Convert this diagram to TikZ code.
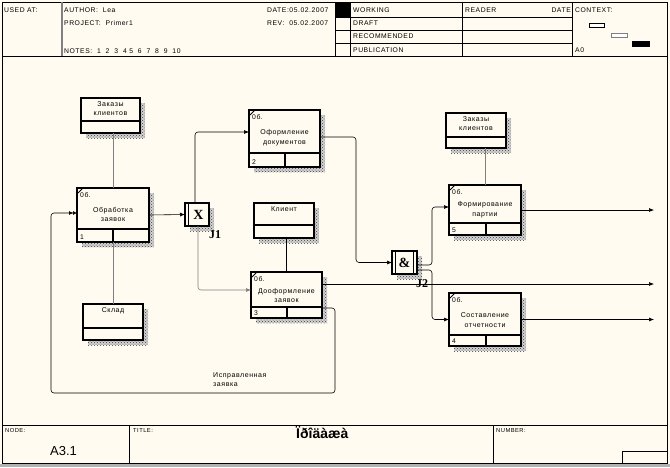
\documentclass[tikz,border=0pt]{standalone}
\usepackage{fontspec}
\setmainfont{Liberation Sans}
\newfontfamily\labf[LetterSpace=8]{Liberation Sans}
\newfontfamily\serifb{Liberation Serif}
\usetikzlibrary{arrows.meta,patterns,calc}
\definecolor{bg}{RGB}{255,251,240}
\definecolor{ln}{RGB}{128,128,128}
\tikzset{
  boxn/.style={draw=black, line width=1.3pt, fill=bg, inner sep=0pt, outer sep=0pt, anchor=north west},
  shade/.style={preaction={fill=gray!35}, pattern=crosshatch dots, pattern color=black!75},
  txt/.style={inner sep=0pt, font=\labf\fontsize{7}{9.5}\selectfont, align=center},
  hdr/.style={inner sep=0pt, anchor=base west, font=\labf\fontsize{6.8}{8}\selectfont},
  conn/.style={draw=black, line width=0.6pt, rounded corners=3pt},
  mech/.style={draw=ln, line width=0.8pt},
  arr/.style={-{Latex[length=5pt,width=4pt]}},
  jl/.style={inner sep=0pt, font=\serifb\bfseries\fontsize{12}{12}\selectfont},
}
% activity box: #1 name, #2 x1, #3 y1, #4 x2, #5 y2, #6 strip y, #7 divider x, #8 number, #9 text
\newcommand{\actbox}[9]{%
  \fill[shade] (#2+5,#3+5) rectangle (#4+5,#5+5);
  \node[boxn, minimum width={(#4-#2)*1pt}, minimum height={(#5-#3)*1pt}] (#1) at (#2,#3) {};
  \draw[line width=1.3pt] (#2,#6) -- (#4,#6) (#7,#6) -- (#7,#5);
  \draw[line width=0.8pt] (#2+1,#3+5) -- (#2+6,#3);
  \node[hdr] at (#2+3,#3+9) {0б.};
  \node[hdr] at (#2+3,#5-2.5) {#8};
  \node[txt] at ({(#2+#4)/2},{(#3+#6)/2+6}) {#9};
}
% label box: #1 name, #2 x1, #3 y1, #4 x2, #5 y2, #6 divider y, #7 text
\newcommand{\labbox}[7]{%
  \fill[shade] (#2+5,#3+5) rectangle (#4+5,#5+5);
  \node[boxn, minimum width={(#4-#2)*1pt}, minimum height={(#5-#3)*1pt}] (#1) at (#2,#3) {};
  \draw[line width=1.3pt] (#2,#6) -- (#4,#6);
  \node[txt, anchor=north] at ({(#2+#4)/2},#3+3) {#7};
}
\begin{document}
\begin{tikzpicture}[x=1pt,y=-1pt]
\useasboundingbox (0,0) rectangle (670,467);
\fill[bg] (0,0) rectangle (670,467);
\fill[gray!60] (0,463.5) rectangle (670,467);
% frame
\draw[line width=1pt] (2,2) rectangle (667,463);
% header
\draw[line width=1pt] (2,56) -- (667,56);
\draw[ln, line width=1.5pt] (62,2) -- (62,56);
\draw[line width=0.8pt] (335,2) -- (335,56) (350,2) -- (350,56) (462,2) -- (462,56) (572,2) -- (572,56);
\draw[line width=0.8pt] (335,17) -- (572,17) (335,30) -- (572,30) (335,43) -- (572,43);
\fill[black] (335,2) rectangle (350,17);
\draw[line width=0.8pt, fill=white] (589,23) rectangle (604,27);
\draw[line width=0.8pt, draw=ln, fill=white] (611,33) rectangle (627,37);
\fill[black] (632,41) rectangle (650,47);
\node[hdr] at (4,12) {USED AT:};
\node[hdr] at (64,12) {AUTHOR:\ \ Lea};
\node[hdr] at (64,25) {PROJECT:\ \ Primer1};
\node[hdr] at (64,53) {NOTES:\ \ 1\ \ 2\ \ 3\ \ 4\ 5\ \ 6\ \ 7\ \ 8\ \ 9\ \ 10};
\node[hdr] at (267,12) {DATE:05.02.2007};
\node[hdr] at (267,25) {REV:\ \ 05.02.2007};
\node[hdr] at (353,12) {WORKING};
\node[hdr] at (353,25) {DRAFT};
\node[hdr] at (353,38) {RECOMMENDED};
\node[hdr] at (353,52) {PUBLICATION};
\node[hdr] at (465,12) {READER};
\node[hdr, anchor=base east] at (571,12) {DATE};
\node[hdr] at (575,12) {CONTEXT:};
\node[hdr] at (575,52) {A0};
% footer
\draw[line width=1pt] (2,425) -- (667,425);
\draw[line width=0.8pt] (129,425) -- (129,463) (493,425) -- (493,463);
\draw[line width=0.8pt] (622,451) -- (667,451) (622,451) -- (622,463);
\node[hdr, font=\labf\fontsize{5.8}{6}\selectfont] at (5,432) {NODE:};
\node[hdr, font=\fontsize{13}{13}\selectfont] at (50,455) {A3.1};
\node[hdr, font=\labf\fontsize{5.8}{6}\selectfont] at (133,432) {TITLE:};
\node[hdr, font=\bfseries\fontsize{14}{14}\selectfont] (title) at (296,438) {Ïðîäàæà};
\node[hdr, font=\labf\fontsize{5.8}{6}\selectfont] at (496,432) {NUMBER:};
% boxes
\labbox{zak1}{81}{98}{140}{133}{121}{Заказы\\клиентов}
\labbox{klient}{254}{203}{314}{238}{225}{Клиент}
\labbox{sklad}{83}{304}{143}{340}{328}{Склад}
\labbox{zak2}{446}{113}{506}{148}{137}{Заказы\\клиентов}
\actbox{obr}{77}{188}{149}{242}{229}{113}{1}{Обработка\\заявок}
\actbox{oform}{249}{110}{320}{167}{153}{285}{2}{Оформление\\документов}
\actbox{doo}{251}{272}{322}{318}{307}{287}{3}{Дооформление\\заявок}
\actbox{sost}{449}{293}{521}{346}{335}{486}{4}{Составление\\отчетности}
\actbox{form}{449}{185}{521}{235}{223}{486}{5}{Формирование\\партии}
% junctions
\fill[shade] (190,208) rectangle (214,231);
\node[boxn, minimum width=24pt, minimum height=23pt] (jx) at (185,203) {};
\draw[line width=0.8pt] (188.5,203) -- (188.5,226);
\node[jl, font=\serifb\bfseries\fontsize{14}{14}\selectfont] at (198.5,215) {X};
\node[jl, anchor=north west] (j1) at (209,230) {J1};
\fill[shade] (397,256) rectangle (422,279);
\node[boxn, minimum width=25pt, minimum height=23pt] (jamp) at (392,251) {};
\draw[line width=0.8pt] (395.5,251) -- (395.5,274) (413.5,251) -- (413.5,274);
\node[jl, font=\serifb\bfseries\fontsize{14}{14}\selectfont] at (404.5,262.5) {\&};
\node[jl, anchor=north west] (j2) at (416,279) {J2};
% coordinates
\coordinate (out1) at (654,210);
\coordinate (out2) at (654,284);
\coordinate (out3) at (654,319.5);
\coordinate (lp1) at (335,393);
\coordinate (lp2) at (51,393);
% mechanisms / controls
\draw[mech] (obr.north) -- (obr.north |- zak1.south);
\draw[mech] (obr.south) -- (obr.south |- sklad.north);
\draw[mech] (form.north) -- (form.north |- zak2.south);
\draw[conn] (doo.north) -- (doo.north |- klient.south);
% flows
\draw[conn, arr] (obr.east) -- (jx.west);
\draw[conn, arr] ([xshift=-2pt]jx.north) |- ([yshift=6.5pt]oform.west);
\draw[conn, draw=ln, arr] ([xshift=1pt]jx.south) |- ([yshift=5pt]doo.west);
\draw[conn, arr] ([yshift=1.5pt]oform.east) -- ++(36,0) |- (jamp.west);
\draw[conn, arr] ([yshift=-2.5pt]jamp.east) -- ++(15,0) |- ([yshift=3pt]form.west);
\draw[conn, arr] ([yshift=-7.5pt]jamp.east) -- ++(15,0) |- (sost.west);
\draw[conn, arr] ([yshift=11pt]doo.east) -- (out2);
\draw[conn, arr] (form.east) -- (out1);
\draw[conn, arr] (sost.east) -- (out3);
\draw[conn, -{Latex[length=4pt,width=4pt]Latex[length=4pt,width=4pt]}] ([yshift=10pt]doo.south east) -| (lp1) -- (lp2) |- ([yshift=2pt]obr.west);
\node[txt, align=left, anchor=north west] (lbl) at (213,372) {Исправленная\\заявка};
\end{tikzpicture}
\end{document}
